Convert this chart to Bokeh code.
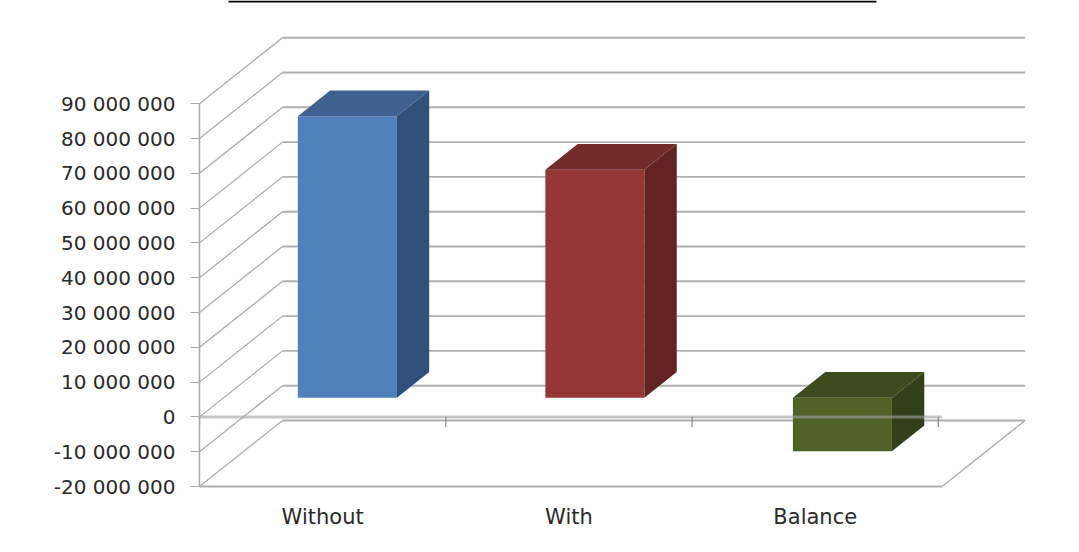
from bokeh.embed import file_html
from bokeh.models import FixedTicker, LinearAxis, Range1d
from bokeh.plotting import figure
from bokeh.resources import INLINE

categories = ["Without", "With", "Balance"]
values = [80_900_000, 65_500_000, -15_400_000]
front_colors = ["#4F81BD", "#953735", "#4F6228"]
side_colors = ["#2F5078", "#632322", "#323F19"]
top_colors = ["#3E6190", "#742C2A", "#3E4B1E"]
value_ticks = [-20_000_000, -10_000_000, 0, 10_000_000, 20_000_000, 30_000_000,
               40_000_000, 50_000_000, 60_000_000, 70_000_000, 80_000_000, 90_000_000]
value_tick_labels = ["-20 000 000", "-10 000 000", "0", "10 000 000", "20 000 000", "30 000 000",
                     "40 000 000", "50 000 000", "60 000 000", "70 000 000", "80 000 000", "90 000 000"]

WIDTH, HEIGHT = 1079, 552
LEFT, BOTTOM = 199, 66
CAT_PX = 246.3
VAL_PX = 34.8 / 10_000_000
frame_w, frame_h = WIDTH - LEFT, HEIGHT - BOTTOM

# Oblique projection: a full step of depth moves right and up by these amounts.
DEPTH_X = 83 / CAT_PX
DEPTH_Y = 66 / VAL_PX
BAR_WIDTH = 99 / CAT_PX
BAR_STEP = 1.005
BAR_FRONT, BAR_BACK = 0.29, 0.68
PLANE_END = 3.015


def project(cat, val, depth=0.0):
    return cat + depth * DEPTH_X, val + depth * DEPTH_Y


low = value_ticks[0]
top_value = low + frame_h / VAL_PX
p = figure(width=WIDTH, height=HEIGHT, output_backend="svg", toolbar_location=None,
           x_range=Range1d(0, frame_w / CAT_PX),
           y_range=Range1d(low, top_value),
           x_axis_location=None, y_axis_location=None,
           min_border_left=LEFT, min_border_right=0, min_border_top=0, min_border_bottom=BOTTOM,
           outline_line_color=None, background_fill_color="white", border_fill_color="white")
p.grid.visible = False

GREY = "#b0b0b0"

# Back wall, floor and side wall rules
back_xs, back_ys, side_xs, side_ys = [], [], [], []
for t in value_ticks:
    x0, y0 = project(0, t, 1)
    x1, y1 = project(PLANE_END, t, 1)
    back_xs.append([x0, x1])
    back_ys.append([y0, y1])
    side_xs.append([0, x0])
    side_ys.append([t, y0])
p.multi_line(back_xs, back_ys, line_color=GREY, line_width=1.9)
p.multi_line(side_xs, side_ys, line_color="#a8a8a8", line_width=1.2)
floor_x, floor_y = project(PLANE_END, low, 1)
p.line([PLANE_END, floor_x], [low, floor_y], line_color="#a8a8a8", line_width=1.2)

# Boxes: front, side and top faces
for i, v in enumerate(values):
    centre = (i + 0.5) * BAR_STEP
    x0 = centre - BAR_WIDTH / 2
    x1 = centre + BAR_WIDTH / 2
    corners = [project(x0, 0, BAR_FRONT), project(x1, 0, BAR_FRONT),
               project(x1, v, BAR_FRONT), project(x0, v, BAR_FRONT)]
    p.patch([c[0] for c in corners], [c[1] for c in corners], fill_color=front_colors[i], line_color=None)
    hi = max(v, 0)
    lo = min(v, 0)
    side = [project(x1, lo, BAR_FRONT), project(x1, lo, BAR_BACK),
            project(x1, hi, BAR_BACK), project(x1, hi, BAR_FRONT)]
    p.patch([c[0] for c in side], [c[1] for c in side], fill_color=side_colors[i], line_color=None)
    top = [project(x0, hi, BAR_FRONT), project(x1, hi, BAR_FRONT),
           project(x1, hi, BAR_BACK), project(x0, hi, BAR_BACK)]
    p.patch([c[0] for c in top], [c[1] for c in top], fill_color=top_colors[i], line_color=None)

# Zero line with category dividers, laid over the boxes
p.line([0, PLANE_END], [0, 0], line_color="#a0a0a0", line_width=3, line_alpha=0.6)
tick_depth = -10 / VAL_PX
p.segment(x0=[0, 1, 2, 3], y0=[0, 0, 0, 0], x1=[0, 1, 2, 3], y1=[tick_depth] * 4,
          line_color="#8c8c8c", line_width=1.2)

y_axis = LinearAxis(ticker=FixedTicker(ticks=value_ticks),
                    major_label_overrides={t: s for t, s in zip(value_ticks, value_tick_labels)},
                    bounds=(value_ticks[0], value_ticks[-1]),
                    axis_line_color="#a8a8a8", axis_line_width=1.5,
                    major_tick_line_color="#a8a8a8", major_tick_line_width=1.2,
                    major_tick_in=0, major_tick_out=9, minor_tick_line_color=None,
                    major_label_standoff=15, major_label_text_color="#2a2a2a",
                    major_label_text_font="DejaVu Sans", major_label_text_font_size="20px")
p.add_layout(y_axis, "left")

x_axis = LinearAxis(ticker=FixedTicker(ticks=[0.5, 1.5, 2.5]),
                    major_label_overrides={i + 0.5: c for i, c in enumerate(categories)},
                    bounds=(0, PLANE_END),
                    axis_line_color=GREY, axis_line_width=2.2,
                    major_tick_line_color=None, minor_tick_line_color=None,
                    major_label_standoff=12, major_label_text_color="#2a2a2a",
                    major_label_text_font="DejaVu Sans", major_label_text_font_size="21px")
p.add_layout(x_axis, "below")

# Title underline running along the top edge
underline_y = top_value - 1 / VAL_PX
p.line([(228 - LEFT) / CAT_PX, (876 - LEFT) / CAT_PX], [underline_y, underline_y],
       line_color="black", line_width=2)

open("out.html", "w").write(file_html(p, INLINE))
